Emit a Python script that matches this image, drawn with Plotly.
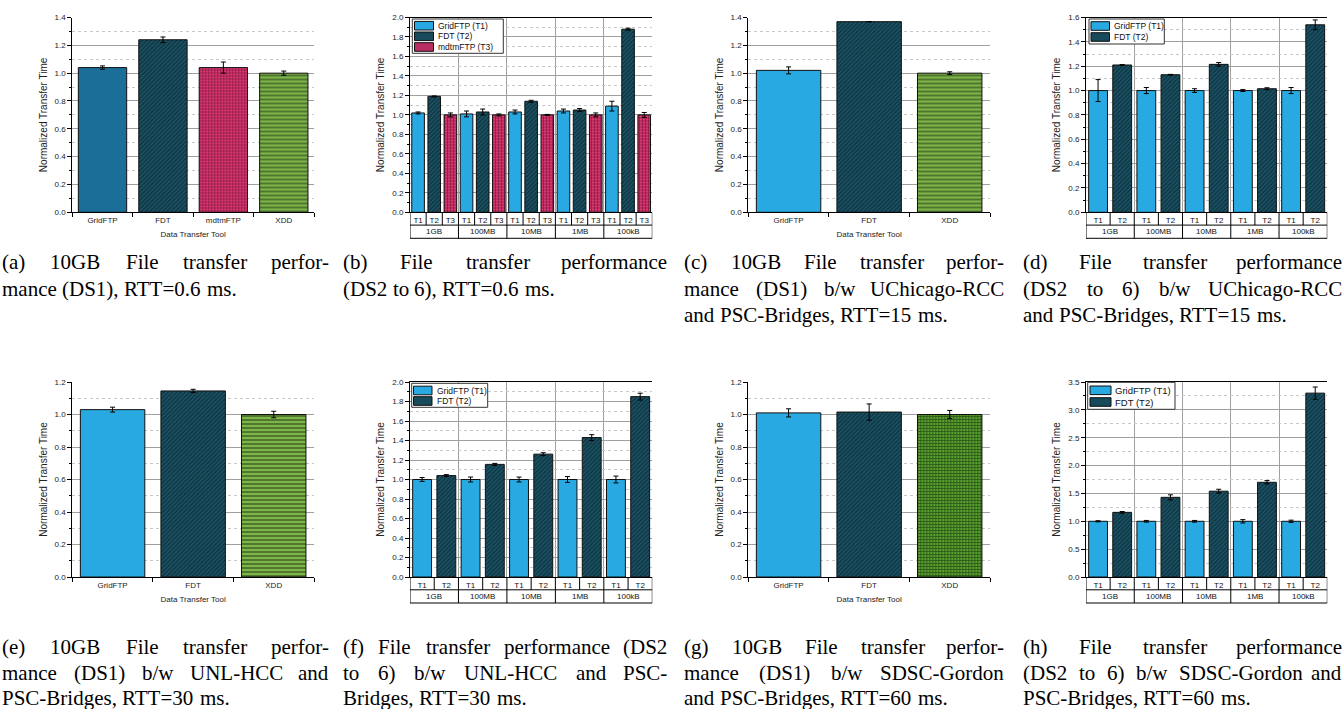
import plotly.graph_objects as go

W, H = 1344, 709
SANS = "Liberation Sans, Arial, sans-serif"
SERIF = "Liberation Serif, Times New Roman, serif"

# ---------------- data ----------------
tools4 = ["GridFTP", "FDT", "mdtmFTP", "XDD"]
tools3 = ["GridFTP", "FDT", "XDD"]

a_vals = [1.04, 1.24, 1.04, 1.00]
a_err = [0.012, 0.02, 0.04, 0.015]
c_vals = [1.02, 1.37, 1.00]
c_err = [0.025, 0.0, 0.01]
e_vals = [1.03, 1.145, 1.00]
e_err = [0.015, 0.01, 0.02]
g_vals = [1.01, 1.015, 1.00]
g_err = [0.025, 0.05, 0.025]

sizes = ["1GB", "100MB", "10MB", "1MB", "100kB"]
series_names = ["GridFTP (T1)", "FDT (T2)", "mdtmFTP (T3)"]
series_short = ["T1", "T2", "T3"]

b_t1 = [1.02, 1.01, 1.03, 1.04, 1.09]
b_t1_err = [0.01, 0.03, 0.02, 0.02, 0.05]
b_t2 = [1.19, 1.03, 1.14, 1.05, 1.88]
b_t2_err = [0.005, 0.03, 0.01, 0.015, 0.01]
b_t3 = [1.00, 1.00, 1.00, 1.00, 1.00]
b_t3_err = [0.02, 0.01, 0.005, 0.02, 0.025]

d_t1 = [1.00, 1.00, 1.00, 1.00, 1.00]
d_t1_err = [0.09, 0.025, 0.015, 0.008, 0.025]
d_t2 = [1.21, 1.13, 1.215, 1.015, 1.54]
d_t2_err = [0.003, 0.003, 0.015, 0.008, 0.04]

f_t1 = [1.00, 1.00, 1.00, 1.00, 1.00]
f_t1_err = [0.02, 0.025, 0.025, 0.03, 0.035]
f_t2 = [1.04, 1.155, 1.26, 1.43, 1.85]
f_t2_err = [0.01, 0.01, 0.015, 0.03, 0.035]

h_t1 = [1.00, 1.00, 1.00, 1.00, 1.00]
h_t1_err = [0.01, 0.015, 0.015, 0.03, 0.02]
h_t2 = [1.16, 1.43, 1.54, 1.70, 3.30]
h_t2_err = [0.015, 0.045, 0.035, 0.03, 0.11]

captions = {
    "a": ["(a) 10GB File transfer perfor-", "mance (DS1), RTT=0.6 ms."],
    "b": ["(b) File transfer performance", "(DS2 to 6), RTT=0.6 ms."],
    "c": ["(c) 10GB File transfer perfor-", "mance (DS1) b/w UChicago-RCC", "and PSC-Bridges, RTT=15 ms."],
    "d": ["(d) File transfer performance", "(DS2 to 6) b/w UChicago-RCC", "and PSC-Bridges, RTT=15 ms."],
    "e": ["(e) 10GB File transfer perfor-", "mance (DS1) b/w UNL-HCC and", "PSC-Bridges, RTT=30 ms."],
    "f": ["(f) File transfer performance (DS2", "to 6) b/w UNL-HCC and PSC-", "Bridges, RTT=30 ms."],
    "g": ["(g) 10GB File transfer perfor-", "mance (DS1) b/w SDSC-Gordon", "and PSC-Bridges, RTT=60 ms."],
    "h": ["(h) File transfer performance", "(DS2 to 6) b/w SDSC-Gordon and", "PSC-Bridges, RTT=60 ms."],
}

# ---------------- styles ----------------
LINE = dict(color="#111111", width=1)
STY = {
    "GridFTP_dark": dict(color="#1a6e98", line=LINE),
    "GridFTP": dict(color="#29a9e1", line=LINE),
    "FDT": dict(color="#1a4e60", line=LINE,
                pattern=dict(shape="/", bgcolor="#1b5669", fgcolor="#06161d", size=3, solidity=0.55)),
    "mdtmFTP": dict(color="#c8336a", line=LINE,
                    pattern=dict(shape="+", bgcolor="#e23674", fgcolor="#2a0612", size=3, solidity=0.45)),
    "XDD_lines": dict(color="#79b445", line=LINE,
                      pattern=dict(shape="-", bgcolor="#7cb648", fgcolor="#000000", size=4, solidity=0.35)),
    "XDD_grid": dict(color="#4f8a2a", line=LINE,
                     pattern=dict(shape="+", bgcolor="#5aa52f", fgcolor="#0a1a05", size=3, solidity=0.6)),
}
SWATCH = {"GridFTP": "#29a9e1", "FDT": "#174a5b", "mdtmFTP": "#b82e62"}

fig = go.Figure()
layout = dict(width=W, height=H, margin=dict(l=0, r=0, t=0, b=0),
              paper_bgcolor="white", plot_bgcolor="white", barmode="overlay",
              font=dict(family=SANS, color="#111111"), showlegend=False)
annotations = []
shapes = []


def ref(k):
    return "" if k == 1 else str(k)


def dom(px):
    x0, y0, x1, y1 = px
    return [x0 / W, x1 / W], [1 - y1 / H, 1 - y0 / H]


def yaxis(k, yd, ymax, dtick):
    return dict(domain=yd, anchor="x" + ref(k), range=[0, ymax], tick0=0, dtick=dtick,
                tickformat=".1f", showline=True, linecolor="black", linewidth=1,
                ticks="outside", ticklen=4, tickwidth=1, tickcolor="black",
                tickfont=dict(size=8, color="#222222"), showgrid=True, gridcolor="#a0a0a0",
                gridwidth=1, zeroline=False, automargin=False, fixedrange=True,
                minor=dict(tick0=0, dtick=dtick / 2, ticks="outside", ticklen=2, tickcolor="black",
                           showgrid=True, gridcolor="#c8c8c8", griddash="dot", gridwidth=1),
                title=dict(text="Normalized Transfer Time", font=dict(size=10, color="#222222"), standoff=5))


def err(arr):
    return dict(type="data", array=arr, visible=True, color="black", thickness=1, width=2.5)


def simple_panel(k, px, cats, vals, errs, styles, ymax, dtick):
    xd, yd = dom(px)
    for c, v, e, s in zip(cats, vals, errs, styles):
        fig.add_trace(go.Bar(x=[c], y=[v], error_y=err([e]), marker=STY[s], width=0.8,
                             xaxis="x" + ref(k), yaxis="y" + ref(k), showlegend=False, name=c))
    layout["xaxis" + ref(k)] = dict(domain=xd, anchor="y" + ref(k), type="category",
                                    categoryorder="array", categoryarray=cats,
                                    range=[-0.5, len(cats) - 0.5], showline=True, linecolor="black",
                                    linewidth=1, ticks="outside", tickson="boundaries", ticklen=4,
                                    tickcolor="black", tickfont=dict(size=8, color="#222222"),
                                    showgrid=False, automargin=False, fixedrange=True,
                                    title=dict(text="Data Transfer Tool", font=dict(size=8, color="#222222"),
                                               standoff=7))
    layout["yaxis" + ref(k)] = yaxis(k, yd, ymax, dtick)


def manual_legend(box, rows, sw_x, txt_x, fs, entries):
    x0, y0, x1, y1 = box
    P = lambda x, y: (x / W, 1 - y / H)
    bx0, by0 = P(x0, y0)
    bx1, by1 = P(x1, y1)
    shapes.append(dict(type="rect", xref="paper", yref="paper", x0=bx0, x1=bx1, y0=by1, y1=by0,
                       fillcolor="white", line=dict(color="#333333", width=1), layer="above"))
    for (name, key), yc in zip(entries, rows):
        sx0, sy0 = P(sw_x[0], yc - 4.3)
        sx1, sy1 = P(sw_x[1], yc + 4.3)
        shapes.append(dict(type="rect", xref="paper", yref="paper", x0=sx0, x1=sx1, y0=sy1, y1=sy0,
                           fillcolor=SWATCH[key], line=dict(color="#111111", width=1), layer="above"))
        tx, ty = P(txt_x, yc)
        annotations.append(dict(text=name, x=tx, y=ty, xref="paper", yref="paper", xanchor="left",
                                yanchor="middle", showarrow=False, borderpad=0,
                                font=dict(size=fs, color="#111111", family=SANS)))


def grouped_panel(k, px, series, errs, styles, ymax, dtick):
    xd, yd = dom(px)
    n = len(series)
    N = n * len(sizes)
    for s, (vals, es, st) in enumerate(zip(series, errs, styles)):
        xs = [g * n + s for g in range(len(sizes))]
        fig.add_trace(go.Bar(x=xs, y=vals, error_y=err(es), marker=STY[st], width=0.78,
                             xaxis="x" + ref(k), yaxis="y" + ref(k), name=series_names[s],
                             showlegend=False))
    layout["xaxis" + ref(k)] = dict(domain=xd, anchor="y" + ref(k), range=[-0.5, N - 0.5],
                                    tickmode="array", tickvals=list(range(N)),
                                    ticktext=[series_short[i % n] for i in range(N)],
                                    ticks="", tickfont=dict(size=8, color="#111111"),
                                    showline=True, mirror=True, linecolor="black", linewidth=1,
                                    showgrid=False, zeroline=False, automargin=False, fixedrange=True,
                                    minor=dict(tick0=-0.5, dtick=n, showgrid=True, gridcolor="#a0a0a0",
                                               gridwidth=1, ticks=""))
    layout["yaxis" + ref(k)] = yaxis(k, yd, ymax, dtick)
    # category table below axis
    ph = px[3] - px[1]
    r1, r2 = 12.8 / ph, 26.0 / ph
    xr, yr = "x" + ref(k), "y" + ref(k) + " domain"
    for y in (-r1, -r2):
        shapes.append(dict(type="line", xref=xr, yref=yr, x0=-0.5, x1=N - 0.5, y0=y, y1=y,
                           line=dict(color="black", width=1)))
    for i in range(N + 1):
        y1 = -r2 if i % n == 0 else -r1
        shapes.append(dict(type="line", xref=xr, yref=yr, x0=i - 0.5, x1=i - 0.5, y0=0, y1=y1,
                           line=dict(color="black", width=1)))
    for g, name in enumerate(sizes):
        annotations.append(dict(text=name, x=g * n + (n - 1) / 2, y=-(r1 + r2) / 2, xref=xr, yref=yr,
                                showarrow=False, font=dict(size=8, color="#111111"),
                                xanchor="center", yanchor="middle"))


TOP = (17.5, 212.3)
BOT = (382.0, 577.0)
COLS = [(72.3, 314.0), (410.0, 652.3), (748.3, 990.0), (1086.0, 1327.3)]

simple_panel(1, (COLS[0][0], TOP[0], COLS[0][1], TOP[1]), tools4, a_vals, a_err,
             ["GridFTP_dark", "FDT", "mdtmFTP", "XDD_lines"], 1.4, 0.2)
grouped_panel(2, (COLS[1][0], TOP[0], COLS[1][1], TOP[1]), [b_t1, b_t2, b_t3],
              [b_t1_err, b_t2_err, b_t3_err], ["GridFTP", "FDT", "mdtmFTP"], 2.0, 0.2)
simple_panel(3, (COLS[2][0], TOP[0], COLS[2][1], TOP[1]), tools3, c_vals, c_err,
             ["GridFTP", "FDT", "XDD_lines"], 1.4, 0.2)
grouped_panel(4, (COLS[3][0], TOP[0], COLS[3][1], TOP[1]), [d_t1, d_t2],
              [d_t1_err, d_t2_err], ["GridFTP", "FDT"], 1.6, 0.2)
simple_panel(5, (COLS[0][0], BOT[0], COLS[0][1], BOT[1]), tools3, e_vals, e_err,
             ["GridFTP", "FDT", "XDD_lines"], 1.2, 0.2)
grouped_panel(6, (COLS[1][0], BOT[0], COLS[1][1], BOT[1]), [f_t1, f_t2],
              [f_t1_err, f_t2_err], ["GridFTP", "FDT"], 2.0, 0.2)
simple_panel(7, (COLS[2][0], BOT[0], COLS[2][1], BOT[1]), tools3, g_vals, g_err,
             ["GridFTP", "FDT", "XDD_grid"], 1.2, 0.2)
grouped_panel(8, (COLS[3][0], BOT[0], COLS[3][1], BOT[1]), [h_t1, h_t2],
              [h_t1_err, h_t2_err], ["GridFTP", "FDT"], 3.5, 0.5)

leg3 = [(series_names[0], "GridFTP"), (series_names[1], "FDT"), (series_names[2], "mdtmFTP")]
leg2 = leg3[:2]
manual_legend((412.3, 19.0, 503.3, 53.3), [25.7, 36.3, 47.0], (414.5, 433.5), 436.5, 8.5, leg3)
manual_legend((1089.0, 19.0, 1164.3, 44.0), [26.0, 37.0], (1091.0, 1109.5), 1112.5, 8.5, leg2)
manual_legend((411.7, 383.3, 487.7, 407.3), [390.5, 401.0], (413.5, 432.0), 435.5, 8.5, leg2)
manual_legend((1087.7, 382.3, 1175.0, 409.3), [390.3, 402.0], (1090.0, 1111.0), 1114.0, 9.5, leg2)

# ---------------- captions (justified, Times metrics) ----------------
TW = {}
TW.update({c: w for c, w in zip("abcdefghijklmnopqrstuvwxyz",
                                [444, 500, 444, 500, 444, 333, 500, 500, 278, 278, 500, 278, 778,
                                 500, 500, 500, 500, 333, 389, 278, 500, 500, 722, 500, 500, 444])})
TW.update({c: w for c, w in zip("ABCDEFGHIJKLMNOPQRSTUVWXYZ",
                                [722, 667, 667, 722, 611, 556, 722, 722, 333, 389, 722, 611, 889,
                                 722, 722, 556, 722, 667, 556, 611, 722, 722, 944, 722, 722, 611])})
TW.update({d: 500 for d in "0123456789"})
TW.update({"(": 333, ")": 333, "-": 333, ".": 250, ",": 250, "=": 564, "/": 278, " ": 250})


def tw(s, fs):
    return sum(TW.get(ch, 500) for ch in s) / 1000.0 * fs


CAP_FS = 21
CAP_COLS = [(1, 330), (342, 668), (683, 1005), (1022, 1343)]
CAP_Y = {0: [262, 289, 315], 1: [647, 673, 698]}
for idx, key in enumerate("abcdefgh"):
    row, col = divmod(idx, 4)
    x0, x1 = CAP_COLS[col]
    lines = captions[key]
    for li, line in enumerate(lines):
        yc = CAP_Y[row][li]
        words = line.split(" ")
        justify = li < len(lines) - 1
        widths = [tw(w, CAP_FS) for w in words]
        gap = (x1 - x0 - sum(widths)) / (len(words) - 1) if justify else tw(" ", CAP_FS)
        x = x0
        for wi, (w, wd) in enumerate(zip(words, widths)):
            last = justify and wi == len(words) - 1
            annotations.append(dict(text=w, x=(x1 if last else x) / W, y=1 - yc / H,
                                    xref="paper", yref="paper",
                                    xanchor="right" if last else "left", yanchor="middle",
                                    showarrow=False, borderpad=0,
                                    font=dict(family=SERIF, size=CAP_FS, color="black")))
            x += wd + gap

layout["annotations"] = annotations
layout["shapes"] = shapes
fig.update_layout(**layout)
fig.write_html("out.html", config={"displayModeBar": False, "staticPlot": True},
               post_script="document.body.style.margin='0px';document.body.style.overflow='hidden';")
